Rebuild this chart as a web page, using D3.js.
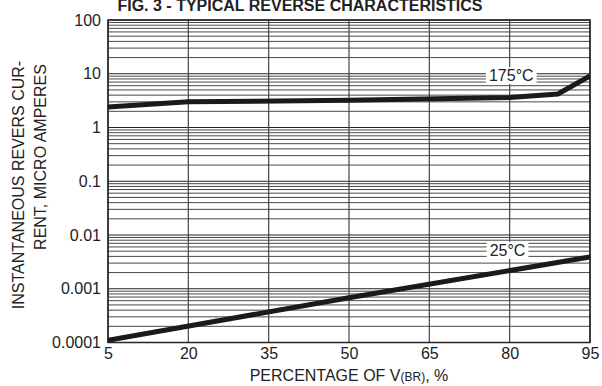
<!DOCTYPE html>
<html><head><meta charset="utf-8">
<script src="https://cdn.jsdelivr.net/npm/d3@7"></script>
<style>body{margin:0;background:#fff}svg{display:block}text{font-family:"Liberation Sans",Arial,sans-serif;fill:#222}</style>
</head><body>
<svg id="c" width="602" height="386"></svg>
<script>
const xTicks = [5, 20, 35, 50, 65, 80, 95];
const yTicks = [0.0001, 0.001, 0.01, 0.1, 1, 10, 100];
const yTickLabels = ["0.0001", "0.001", "0.01", "0.1", "1", "10", "100"];
const x175 = [5, 20, 50, 80, 89, 95];
const y175 = [2.4, 3.0, 3.2, 3.6, 4.2, 9.1];
const x25 = [5, 50, 95];
const y25 = [0.00011, 0.00068, 0.0039];
const seriesLabels = ["175°C", "25°C"];
const labelPos = [[80.3, 9.5], [79.6, 0.0053]];

const svg = d3.select("#c");
const L = 108, R = 590, T = 20, B = 342.5;
const x = d3.scaleLinear().domain([5, 95]).range([L, R]);
const y = d3.scaleLog().domain([0.0001, 100]).range([B, T]);

// title (partially cut off at top, as in the reference)
svg.append("text").attr("x", 300).attr("y", 11).attr("text-anchor", "middle")
  .attr("font-size", 16).attr("font-weight", "bold").text("FIG. 3 - TYPICAL REVERSE CHARACTERISTICS");

// minor horizontal grid
const minor = [];
for (let d = -4; d < 2; d++) for (let m = 2; m <= 9; m++) minor.push(m * Math.pow(10, d));
svg.append("g").selectAll("line").data(minor).join("line")
  .attr("x1", L).attr("x2", R).attr("y1", d => y(d)).attr("y2", d => y(d))
  .attr("stroke", "#333").attr("stroke-width", 0.9);
svg.append("g").selectAll("line").data(yTicks).join("line")
  .attr("x1", L).attr("x2", R).attr("y1", d => y(d)).attr("y2", d => y(d))
  .attr("stroke", "#222").attr("stroke-width", 1);
svg.append("g").selectAll("line").data(xTicks).join("line")
  .attr("x1", d => x(d)).attr("x2", d => x(d)).attr("y1", T).attr("y2", B)
  .attr("stroke", "#444").attr("stroke-width", 1.2);

// axes
const ya = d3.axisLeft(y).tickValues(yTicks).tickFormat((d, i) => yTickLabels[i]).tickSize(0).tickPadding(7);
const gy = svg.append("g").attr("transform", `translate(${L},0)`).call(ya);
gy.select(".domain").remove();
gy.selectAll("text").attr("font-size", 16).attr("fill", "#222").attr("font-family", '"Liberation Sans",Arial,sans-serif');
const xa = d3.axisBottom(x).tickValues(xTicks).tickSize(0).tickPadding(5);
const gx = svg.append("g").attr("transform", `translate(0,${B})`).call(xa);
gx.select(".domain").remove();
gx.selectAll("text").attr("font-size", 16).attr("fill", "#222").attr("font-family", '"Liberation Sans",Arial,sans-serif');

// border
svg.append("rect").attr("x", L).attr("y", T).attr("width", R - L).attr("height", B - T)
  .attr("fill", "none").attr("stroke", "#222").attr("stroke-width", 1.5);

// curves
const line = d3.line().x(d => x(d[0])).y(d => y(d[1]));
svg.append("clipPath").attr("id", "cp").append("rect").attr("x", L).attr("y", T).attr("width", R - L).attr("height", B - T);
svg.append("path").datum(x175.map((v, i) => [v, y175[i]])).attr("d", line)
  .attr("fill", "none").attr("stroke", "#1a1a1a").attr("stroke-width", 5).attr("clip-path", "url(#cp)");
svg.append("path").datum(x25.map((v, i) => [v, y25[i]])).attr("d", line)
  .attr("fill", "none").attr("stroke", "#1a1a1a").attr("stroke-width", 5).attr("clip-path", "url(#cp)");

// series labels with white boxes
seriesLabels.forEach((s, i) => {
  const cx = x(labelPos[i][0]), cy = y(labelPos[i][1]);
  const t = svg.append("text").attr("x", cx).attr("y", cy + 6).attr("text-anchor", "middle")
    .attr("font-size", 16).text(s);
  const bb = t.node().getBBox();
  svg.insert("rect", () => t.node()).attr("x", bb.x - 3).attr("y", bb.y).attr("width", bb.width + 6).attr("height", bb.height).attr("fill", "#fff");
});

// axis titles
const xt = svg.append("text").attr("x", 349).attr("y", 381).attr("text-anchor", "middle").attr("font-size", 16);
xt.append("tspan").text("PERCENTAGE OF V");
xt.append("tspan").attr("font-size", 12).text("(BR)");
xt.append("tspan").text(", %");

svg.append("text").attr("transform", "translate(24,185) rotate(-90)").attr("text-anchor", "middle")
  .attr("font-size", 16).text("INSTANTANEOUS REVERS CUR-");
svg.append("text").attr("transform", "translate(46,157) rotate(-90)").attr("text-anchor", "middle")
  .attr("font-size", 16).text("RENT, MICRO AMPERES");
</script>
</body></html>
